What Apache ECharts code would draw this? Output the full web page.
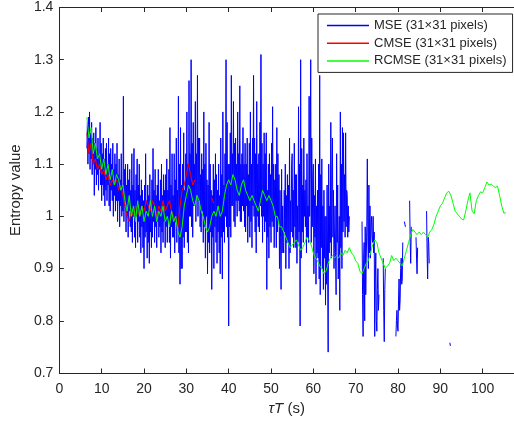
<!DOCTYPE html>
<html>
<head>
<meta charset="utf-8">
<script src="https://cdn.jsdelivr.net/npm/echarts@6/dist/echarts.min.js"></script>
<style>
html,body{margin:0;padding:0;background:#fff;}
#c{width:514px;height:423px;}
</style>
</head>
<body>
<div id="c"></div>
<script>
// ---- data ----
var seriesNames = ['MSE (31×31 pixels)', 'CMSE (31×31 pixels)', 'RCMSE (31×31 pixels)'];
var xTicks = [0, 10, 20, 30, 40, 50, 60, 70, 80, 90, 100];
var yTicks = [0.7, 0.8, 0.9, 1, 1.1, 1.2, 1.3, 1.4];

// MSE: tau*T from 6 s, every 0.125 s, one line per second (null = undefined value)
var mseStart = 6, mseStep = 0.125;
var mseValues = [
  null,null,null,null,1.13,1.18,1.10,1.19,
  1.12,1.20,1.09,1.16,1.11,1.18,1.08,1.15,
  1.10,1.16,1.04,1.14,1.09,1.17,1.06,1.13,
  1.08,1.15,1.05,1.12,1.09,1.18,1.06,1.14,
  1.03,1.12,1.06,1.15,1.04,1.11,1.02,1.13,
  1.05,1.14,1.03,1.10,1.06,1.15,1.02,1.12,
  1.01,1.13,1.05,1.10,1.03,1.14,1.00,1.09,
  1.04,1.12,1.01,1.10,1.03,1.14,0.99,1.08,
  1.03,1.11,0.98,1.07,1.02,1.12,1.00,1.06,
  1.01,1.23,0.99,1.09,1.02,1.10,0.97,1.06,
  1.00,1.10,0.96,1.07,1.01,1.09,0.98,1.05,
  0.97,1.12,0.95,1.06,1.00,1.13,0.96,1.05,
  0.94,1.08,1.00,1.11,0.95,1.06,0.99,1.10,
  0.96,1.04,0.93,1.07,0.98,1.05,0.94,1.03,
  0.90,1.06,0.96,1.12,0.97,1.03,0.92,1.06,
  0.95,1.04,0.91,1.08,0.97,1.02,0.94,1.07,
  0.96,1.13,0.99,1.05,0.95,1.09,0.98,1.04,
  0.94,1.06,0.99,1.09,0.96,1.03,0.98,1.07,
  0.93,1.10,0.97,1.04,0.95,1.08,0.99,1.05,
  0.94,1.08,0.98,1.11,0.95,1.05,0.99,1.09,
  0.95,1.17,0.92,1.06,0.98,1.12,0.96,1.04,
  0.96,1.12,0.93,1.07,0.99,1.15,0.95,1.05,
  0.98,1.23,0.93,1.10,0.87,1.17,0.90,1.06,
  0.90,1.10,0.96,1.16,0.94,1.05,0.97,1.12,
  0.97,1.20,0.95,1.10,0.93,1.26,1.00,1.12,
  1.00,1.30,0.98,1.14,0.96,1.18,1.02,1.10,
  1.02,1.22,0.99,1.12,1.04,1.27,1.00,1.15,
  1.03,1.15,0.98,1.08,0.97,1.12,1.01,1.09,
  0.95,1.20,0.98,1.10,0.92,1.14,1.00,1.07,
  0.89,1.06,0.95,1.18,0.93,1.10,0.97,1.05,
  0.86,1.04,0.96,1.10,0.90,1.07,0.98,1.12,
  0.95,1.08,0.91,1.05,0.97,1.10,0.93,1.04,
  0.89,1.15,0.96,1.08,0.88,1.20,0.97,1.06,
  0.95,1.12,1.00,1.30,0.98,1.18,0.96,1.10,
  0.79,1.10,0.98,1.16,0.96,1.27,1.02,1.12,
  1.02,1.22,0.99,1.14,0.98,1.15,1.03,1.10,
  1.00,1.20,1.03,1.12,1.01,1.25,0.99,1.10,
  0.99,1.12,1.02,1.17,1.01,1.10,0.98,1.14,
  0.97,1.10,1.02,1.15,0.95,1.08,1.00,1.14,
  0.96,1.20,0.99,1.10,0.94,1.15,1.02,1.27,
  1.00,1.15,0.97,1.12,0.93,1.22,1.00,1.10,
  0.98,1.12,0.97,1.18,1.02,1.31,1.00,1.14,
  0.95,1.10,1.00,1.16,0.97,1.12,0.99,1.16,
  0.86,1.05,0.96,1.10,0.92,1.12,0.98,1.08,
  0.95,1.14,0.99,1.21,0.98,1.10,0.94,1.07,
  1.00,1.10,0.94,1.17,0.97,1.12,0.99,1.08,
  0.90,1.05,0.96,0.86,1.09,0.93,1.02,0.95,
  0.93,1.05,0.97,1.10,0.90,1.04,0.95,1.08,
  0.95,1.06,0.90,1.15,0.93,1.03,0.97,1.10,
  1.12,0.96,1.05,0.94,1.14,0.98,1.08,0.94,
  1.08,0.91,1.02,0.95,1.21,0.97,1.10,0.79,
  1.30,0.92,1.13,0.97,1.06,0.95,1.15,1.00,
  1.05,0.98,1.07,0.93,1.12,0.96,1.02,0.95,
  1.23,1.00,1.10,1.30,0.95,1.15,0.98,1.08,
  1.10,0.89,1.04,0.96,1.11,0.87,1.02,0.93,
  1.05,0.92,1.10,0.88,1.27,0.85,1.08,0.94,
  1.11,0.90,1.02,0.86,1.05,0.92,1.00,0.83,
  1.00,0.87,1.06,0.90,0.74,1.10,0.93,1.02,
  0.95,1.18,0.92,1.08,1.15,0.96,1.05,0.90,
  0.90,1.02,0.93,0.85,1.12,0.95,1.06,0.88,
  0.88,1.00,0.82,1.20,0.94,1.10,0.90,1.17,
  0.97,1.16,0.99,1.08,0.96,1.16,0.98,1.05,
  1.04,0.96,1.02,0.97,1.00,null,null,null,
  null,null,null,null,null,null,null,null,
  null,null,null,null,null,null,null,null,
  null,null,null,null,0.99,0.85,0.77,0.92,
  0.95,0.80,0.98,0.85,0.92,0.98,1.11,0.96,
  0.90,1.06,0.93,1.02,0.92,0.98,1.00,0.96,
  0.95,1.00,0.93,0.97,0.77,0.88,0.93,0.80,
  0.78,0.86,0.90,0.82,0.85,null,null,null,
  null,null,null,null,0.92,0.82,0.76,0.86,
  0.90,null,null,null,null,null,null,null,
  null,null,null,null,null,null,null,null,
  null,null,null,null,0.77,0.80,0.82,0.79,
  0.78,0.84,0.88,0.82,0.84,0.90,0.92,0.87,
  0.88,0.95,null,null,0.99,0.985,0.98,null,
  null,null,null,null,null,null,1.03,0.95,
  0.91,0.98,null,null,null,null,null,null,
  null,null,0.96,0.92,0.89,0.94,null,null,
  null,null,null,null,null,null,null,null,
  null,null,null,null,null,null,1.01,0.93,
  0.88,0.96,0.95,0.91,null,null,null,null,
  null,null,null,null,null,null,null,null,
  null,null,null,null,null,null,null,null,
  null,null,null,null,null,null,null,null,
  null,null,null,null,null,null,null,null,
  null,null,0.758,0.752
];

// CMSE: from 6.5 s, every 0.5 s
var cmseStart = 6.5, cmseStep = 0.5;
var cmseValues = [
  1.16,1.12,1.14,1.10,1.11,1.09,1.10,
  1.08,1.09,1.07,1.08,1.06,1.07,1.06,1.07,1.05,1.06,1.04,1.02,1.00,0.99,1.01,1.00,1.02,1.01,1.00,1.02,
  1.01,1.03,1.02,1.01,1.03,1.02,1.00,1.02,1.01,1.03,1.01,1.02,1.03,1.01,1.00,0.99,0.98,1.02,1.05,1.06,
  1.08,1.10,1.08,1.06,1.07,null,null,null,null,null,null,null,1.035,1.025
];

// RCMSE: from 6.5 s, every 0.5 s
var rcmseStart = 6.5, rcmseStep = 0.5;
var rcmseValues = [
  1.19,1.15,1.17,1.12,1.14,1.11,1.12,
  1.09,1.11,1.08,1.10,1.07,1.09,1.06,1.08,1.07,1.05,1.06,1.03,1.01,1.04,1.00,1.02,0.99,1.03,1.00,1.02,
  0.99,1.01,1.00,1.03,1.00,1.02,0.99,1.01,1.00,1.02,0.99,1.00,0.98,1.01,0.99,1.00,0.97,0.96,0.98,1.02,
  1.04,1.06,1.05,1.03,1.02,1.04,1.03,1.01,1.00,0.98,0.97,0.98,1.00,1.01,1.00,1.02,1.00,1.01,1.04,1.06,
  1.07,1.06,1.08,1.07,1.05,1.04,1.06,1.07,1.05,1.04,1.03,1.04,1.03,1.02,1.01,1.03,1.05,1.04,1.03,1.04,
  1.03,1.02,1.00,1.00,0.98,0.98,0.97,0.96,0.95,0.94,0.945,0.95,0.955,0.945,0.935,0.94,0.95,0.96,0.955,0.945,
  0.93,0.92,0.915,0.905,0.90,0.89,0.895,0.91,0.92,0.925,0.92,0.925,0.92,0.93,0.925,0.935,0.93,0.94,0.93,0.925,
  0.915,0.91,0.895,0.89,0.90,0.91,0.915,0.93,0.945,0.955,0.95,0.93,0.92,0.91,0.90,0.905,0.91,0.925,0.915,0.92,
  0.915,0.91,0.905,0.92,0.935,0.95,0.965,0.975,0.97,0.965,0.97,0.965,0.97,0.965,0.96,0.97,0.975,0.985,1.00,1.01,
  1.02,1.025,1.035,1.045,1.048,1.04,1.025,1.01,1.005,1.00,0.995,0.993,1.01,1.03,1.045,1.01,1.005,1.03,1.04,1.047,
  1.045,1.055,1.066,1.06,1.062,1.058,1.055,1.058,1.04,1.02,1.006,1.007
];

var colors = ['#0000ff', '#ff0000', '#00ff00'];

function toPairs(start, step, vals) {
  return vals.map(function (v, i) { return [start + i * step, v === null ? '-' : v]; });
}

var FONT = '"Liberation Sans", Arial, Helvetica, sans-serif';
var AX = '#262626';

var chart = echarts.init(document.getElementById('c'));
var sets = [
  toPairs(mseStart, mseStep, mseValues),
  toPairs(cmseStart, cmseStep, cmseValues),
  toPairs(rcmseStart, rcmseStep, rcmseValues)
];

chart.setOption({
  animation: false,
  backgroundColor: '#fff',
  grid: { left: 56, top: 7.5, width: 463, height: 365.5, containLabel: false },
  legend: {
    orient: 'vertical',
    left: 318, top: 14,
    padding: [5, 6, 5, 9],
    itemGap: 4.7,
    itemWidth: 42, itemHeight: 1.5,
    icon: 'rect',
    borderColor: AX, borderWidth: 1,
    backgroundColor: '#fff',
    textStyle: { fontFamily: FONT, fontSize: 13, color: AX },
    data: seriesNames
  },
  xAxis: [{
    type: 'value', min: 0, max: 107.4, interval: 10,
    position: 'bottom',
    axisLine: { show: true, lineStyle: { color: AX, width: 1 } },
    axisTick: { show: true, inside: true, length: 4.5, lineStyle: { color: AX } },
    axisLabel: { fontFamily: FONT, fontSize: 14, color: AX, margin: 9, showMaxLabel: false,
      formatter: function (v) { return xTicks.indexOf(v) >= 0 ? String(v) : ''; } },
    splitLine: { show: false },
    name: '{i|τT} (s)',
    nameLocation: 'middle', nameGap: 28,
    nameTextStyle: { fontFamily: FONT, fontSize: 15, color: AX,
      rich: { i: { fontFamily: FONT, fontSize: 15, fontStyle: 'italic', color: AX } } }
  }, {
    type: 'value', min: 0, max: 107.4, interval: 10,
    position: 'top',
    axisLine: { show: true, lineStyle: { color: AX, width: 1 } },
    axisTick: { show: true, inside: true, length: 4.5, lineStyle: { color: AX } },
    axisLabel: { show: false },
    splitLine: { show: false }
  }],
  yAxis: {
    type: 'value', min: 0.7, max: 1.4, interval: 0.1,
    axisLine: { show: true, lineStyle: { color: AX, width: 1 } },
    axisTick: { show: true, inside: true, length: 4.5, lineStyle: { color: AX } },
    axisLabel: { fontFamily: FONT, fontSize: 14, color: AX, margin: 6,
      formatter: function (v) {
        var r = Math.round(v * 10) / 10;
        return yTicks.indexOf(r) >= 0 ? String(r) : '';
      } },
    splitLine: { show: false },
    name: 'Entropy value',
    nameLocation: 'middle', nameGap: 31,
    nameTextStyle: { fontFamily: FONT, fontSize: 15, color: AX }
  },
  series: seriesNames.map(function (n, k) {
    return {
      name: n, type: 'line', data: sets[k],
      xAxisIndex: 0,
      symbol: 'none', showSymbol: false,
      connectNulls: false,
      itemStyle: { color: colors[k] },
      lineStyle: { color: colors[k], width: 1 },
      emphasis: { disabled: true },
      silent: true
    };
  })
});
</script>
</body>
</html>
